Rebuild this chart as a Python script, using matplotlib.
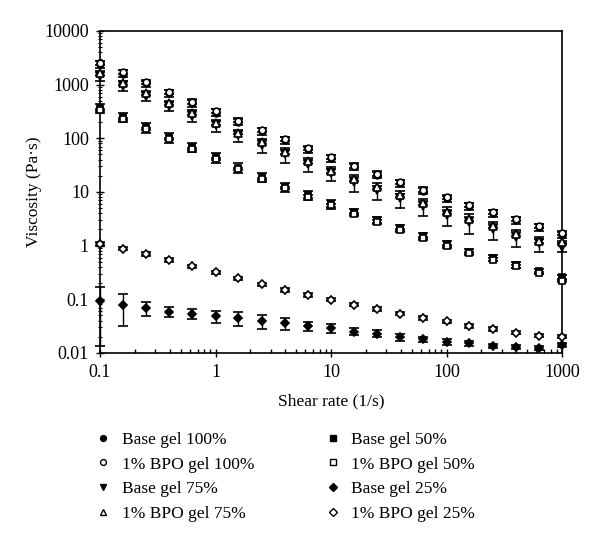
import matplotlib.pyplot as plt
from matplotlib.ticker import FixedLocator, FixedFormatter, LogLocator, NullFormatter

plt.rcParams["font.family"] = ["Liberation Serif", "DejaVu Serif"]
plt.rcParams["font.size"] = 12.5

shear = [0.1, 0.158, 0.251, 0.398, 0.631, 1, 1.58, 2.51, 3.98, 6.31, 10,
         15.8, 25.1, 39.8, 63.1, 100, 158, 251, 398, 631, 1000]

base100 = [2400, 1600, 1050, 700, 460, 300, 205, 136, 92, 62, 43,
           30, 21, 14.8, 10.6, 7.6, 5.5, 4.0, 3.0, 2.2, 1.6]
bpo100 = [2500, 1700, 1100, 740, 480, 320, 214, 142, 96, 65, 45,
          31, 22, 15.3, 11, 7.9, 5.8, 4.2, 3.1, 2.3, 1.74]
base75 = [1450, 960, 620, 400, 265, 175, 115, 76, 50, 33, 22.5,
          15.5, 11, 7.6, 5.4, 3.8, 2.8, 2.0, 1.45, 1.1, 0.95]
bpo75 = [1630, 1070, 700, 450, 295, 196, 128, 85, 56, 37, 25,
         17.5, 12.2, 8.6, 6.2, 4.3, 3.1, 2.3, 1.67, 1.24, 1.15]
base50 = [370, 250, 160, 104, 68, 44, 28.5, 19, 12.5, 8.7, 6.0,
          4.2, 3.0, 2.1, 1.48, 1.06, 0.77, 0.59, 0.44, 0.33, 0.26]
bpo50 = [340, 230, 148, 96, 63, 41, 26.5, 17.7, 11.7, 8.2, 5.6,
         3.9, 2.8, 1.96, 1.38, 0.99, 0.72, 0.55, 0.41, 0.31, 0.22]
base25 = [0.091, 0.079, 0.069, 0.059, 0.054, 0.048, 0.045, 0.040, 0.036, 0.032, 0.029,
          0.025, 0.023, 0.020, 0.018, 0.016, 0.015, 0.0135, 0.0128, 0.0123, 0.014]
bpo25 = [1.08, 0.88, 0.70, 0.54, 0.41, 0.32, 0.245, 0.19, 0.15, 0.12, 0.098,
         0.079, 0.066, 0.054, 0.045, 0.039, 0.032, 0.028, 0.024, 0.021, 0.020]

# relative standard deviations
base100_rsd = [0.15, 0.15, 0.15, 0.15, 0.15, 0.15, 0.15, 0.15, 0.15, 0.15, 0.15,
               0.15, 0.15, 0.15, 0.15, 0.15, 0.15, 0.15, 0.15, 0.15, 0.12]
bpo100_rsd = [0.08] * 21
base75_rsd = [0.2, 0.2, 0.2, 0.2, 0.25, 0.25, 0.25, 0.3, 0.3, 0.3, 0.3,
              0.35, 0.35, 0.35, 0.35, 0.4, 0.4, 0.35, 0.35, 0.3, 0.2]
bpo75_rsd = [0.08] * 21
base50_rsd = [0.2, 0.2, 0.2, 0.2, 0.2, 0.2, 0.2, 0.2, 0.2, 0.2, 0.2,
              0.15, 0.15, 0.15, 0.15, 0.15, 0.12, 0.12, 0.12, 0.1, 0.08]
bpo50_rsd = [0.05] * 21
base25_rsd = [0.85, 0.6, 0.3, 0.2, 0.2, 0.25, 0.3, 0.3, 0.25, 0.2, 0.2,
              0.15, 0.15, 0.15, 0.12, 0.12, 0.1, 0.1, 0.08, 0.08, 0.08]
bpo25_rsd = [0.07] * 21

series = [
    ("Base gel 100%", base100, base100_rsd, "o", "black"),
    ("1% BPO gel 100%", bpo100, bpo100_rsd, "o", "white"),
    ("Base gel 75%", base75, base75_rsd, "v", "black"),
    ("1% BPO gel 75%", bpo75, bpo75_rsd, "^", "white"),
    ("Base gel 50%", base50, base50_rsd, "s", "black"),
    ("1% BPO gel 50%", bpo50, bpo50_rsd, "s", "white"),
    ("Base gel 25%", base25, base25_rsd, "D", "black"),
    ("1% BPO gel 25%", bpo25, bpo25_rsd, "D", "white"),
]

fig = plt.figure(figsize=(6, 5.43), dpi=100)
ax = fig.add_axes([0.1667, 0.35, 0.77, 0.593])

for label, vals, rsd, mk, fc in series:
    err = [v * r for v, r in zip(vals, rsd)]
    ax.errorbar(shear, vals, yerr=err, fmt="none", ecolor="black",
                elinewidth=1, capsize=3.3, capthick=1.2, clip_on=False, zorder=2)
    ms = {"o": 4.8, "s": 4.6, "v": 5.2, "^": 5.2, "D": 4.4}[mk]
    ax.plot(shear, vals, linestyle="none", marker=mk, markersize=ms,
            markerfacecolor=fc, markeredgecolor="black", markeredgewidth=1.2,
            clip_on=False, zorder=3, label=label)

ax.set_xscale("log")
ax.set_yscale("log")
ax.set_xlim(0.1, 1000)
ax.set_ylim(0.01, 10000)

xt = [0.1, 1, 10, 100, 1000]
ax.xaxis.set_major_locator(FixedLocator(xt))
ax.xaxis.set_major_formatter(FixedFormatter(["0.1", "1", "10", "100", "1000"]))
yt = [0.01, 0.1, 1, 10, 100, 1000, 10000]
ax.yaxis.set_major_locator(FixedLocator(yt))
ax.yaxis.set_major_formatter(FixedFormatter(["0.01", "0.1", "1", "10", "100", "1000", "10000"]))
ax.xaxis.set_minor_locator(LogLocator(base=10, subs=range(2, 10), numticks=20))
ax.yaxis.set_minor_locator(LogLocator(base=10, subs=range(2, 10), numticks=20))
ax.xaxis.set_minor_formatter(NullFormatter())
ax.yaxis.set_minor_formatter(NullFormatter())

ax.tick_params(axis="x", which="major", direction="inout", length=6, width=1, labelsize=13, pad=5)
ax.tick_params(axis="x", which="minor", direction="in", length=3, width=1)
ax.tick_params(axis="y", which="major", direction="inout", length=6, width=1, labelsize=13, pad=5)
ax.tick_params(axis="y", which="minor", direction="inout", length=3, width=0.8)
for s in ax.spines.values():
    s.set_linewidth(1.2)

ax.set_xlabel("Shear rate (1/s)", fontsize=12.5, labelpad=9)
ax.set_ylabel("Viscosity (Pa·s)", fontsize=12.5, labelpad=2)

leg_handles = []
for label, vals, rsd, mk, fc in series:
    h, = plt.plot([], [], linestyle="none", marker=mk, markersize=4.2 if mk != "D" else 4,
                  markerfacecolor=fc, markeredgecolor="black", markeredgewidth=1, label=label)
    leg_handles.append(h)
fig.legend(handles=leg_handles, loc="upper left", bbox_to_anchor=(0.146, 0.218),
           ncol=2, frameon=False, fontsize=12.5, handlelength=1, handletextpad=0.58,
           columnspacing=4.0, labelspacing=0.5, borderaxespad=0)

plt.savefig("out.png", dpi=100)
